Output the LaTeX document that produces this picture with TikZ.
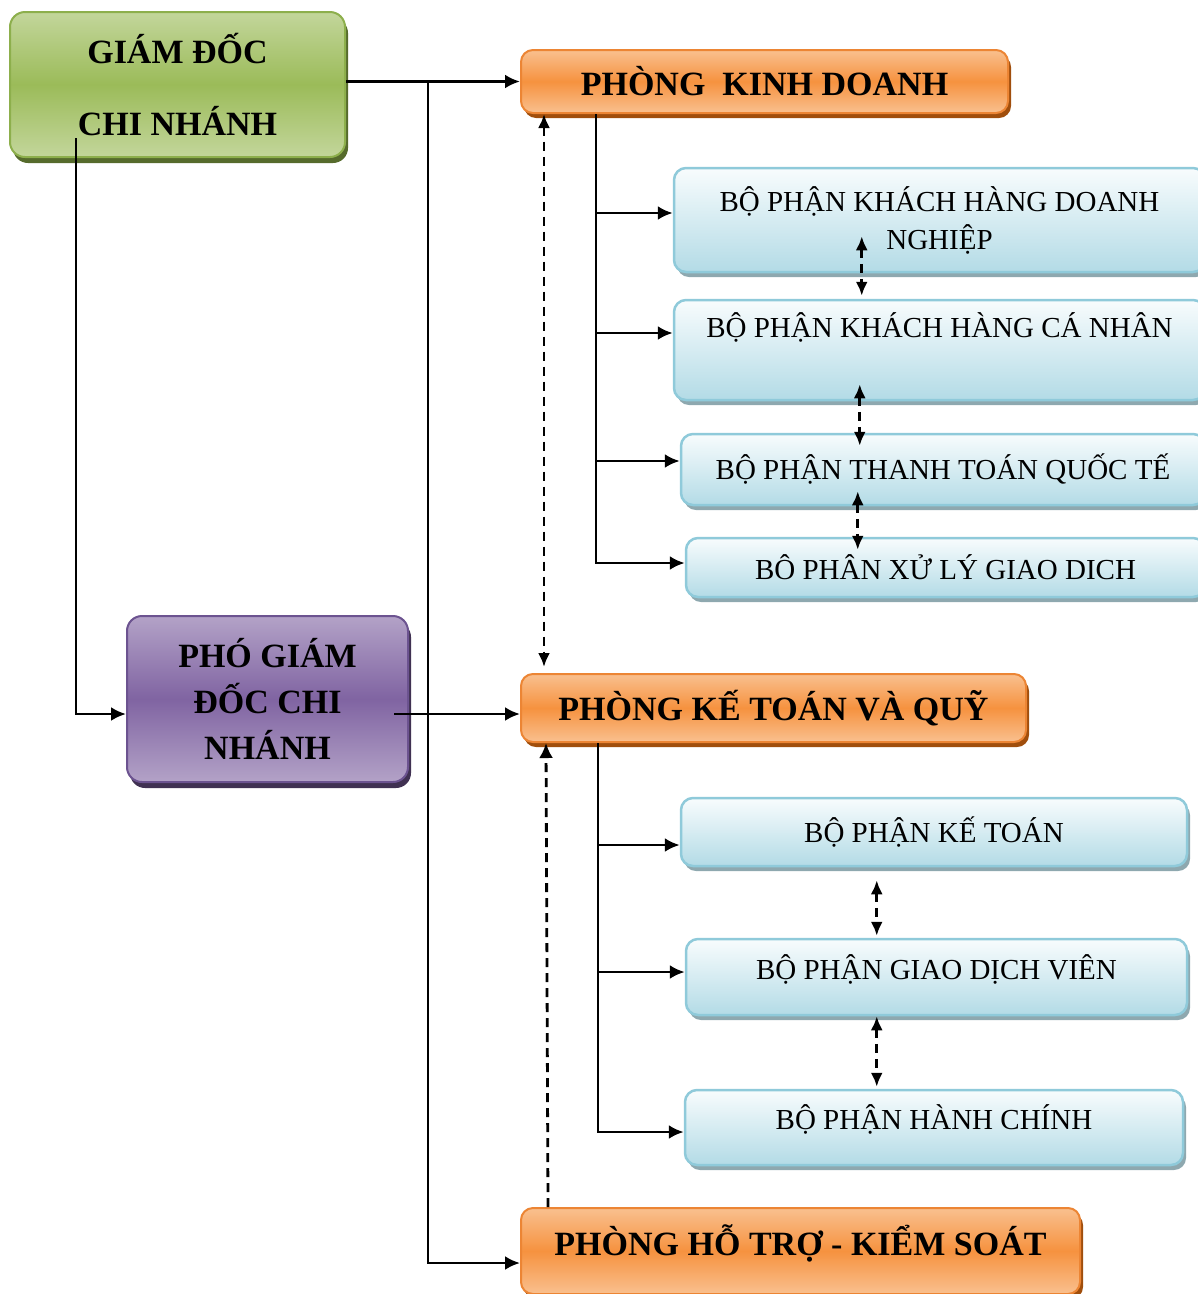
\documentclass[tikz,border=0pt]{standalone}
\usepackage{fontspec}
\setmainfont{Liberation Serif}
\usetikzlibrary{calc}
\usetikzlibrary{arrows.meta, shadows}
\definecolor{orangemid}{HTML}{F6923F}
\definecolor{orangelight}{HTML}{F9C08F}
\definecolor{orangeline}{HTML}{EC8534}
\definecolor{orangeshadow}{HTML}{A04E0C}
\definecolor{greenmid}{HTML}{9BBB59}
\definecolor{greenlight}{HTML}{C3D69B}
\definecolor{greenline}{HTML}{8DAF4C}
\definecolor{greenshadow}{HTML}{566B2C}
\definecolor{purplemid}{HTML}{8064A2}
\definecolor{purplelight}{HTML}{B3A2C7}
\definecolor{purpleline}{HTML}{6C5390}
\definecolor{purpleshadow}{HTML}{403152}
\definecolor{bluetop}{HTML}{F8FCFD}
\definecolor{bluebottom}{HTML}{B3DBE6}
\definecolor{blueline}{HTML}{8FCADA}
\definecolor{blueshadow}{HTML}{8EA8AF}
\tikzset{
	-{Latex[length=15pt,width=14pt]},
	x=1pt, y=-1pt,
	box/.style={rectangle, rounded corners=15pt, align=center, line width=2pt, inner sep=3pt},
	lead/.style={box, draw=greenline, top color=greenlight, bottom color=greenlight, middle color=greenmid,
		font=\bfseries\fontsize{34}{40}\selectfont,
		drop shadow={shadow xshift=3pt, shadow yshift=-6pt, fill=greenshadow, opacity=1}},
	deputy/.style={box, draw=purpleline, top color=purplelight, bottom color=purplelight, middle color=purplemid,
		font=\bfseries\fontsize{34}{46}\selectfont,
		drop shadow={shadow xshift=3pt, shadow yshift=-6pt, fill=purpleshadow, opacity=1}},
	dept/.style={box, rounded corners=12pt, draw=orangeline, top color=orangelight, bottom color=orangelight, middle color=orangemid,
		font=\bfseries\fontsize{34}{40}\selectfont,
		drop shadow={shadow xshift=3pt, shadow yshift=-5pt, fill=orangeshadow, opacity=1}},
	unit/.style={box, rounded corners=12pt, line width=2.5pt, draw=blueline, top color=bluetop, bottom color=bluebottom,
		font=\fontsize{29}{38}\selectfont,
		drop shadow={shadow xshift=3pt, shadow yshift=-5pt, fill=blueshadow, opacity=1}},
	twoway/.style={{Latex[length=14pt,width=12pt]}-{Latex[length=14pt,width=12pt]}, dash pattern=on 9pt off 6pt},
	oneway/.style={dash pattern=on 9pt off 6pt}
}

\begin{document}
\begin{tikzpicture}[line width=2.8pt]
	\useasboundingbox (0,0) rectangle (1198,1294);
	
	% Management
	\node (gd) [lead, minimum width=335pt, minimum height=145pt] at (177.5,84.5) {GIÁM ĐỐC\\[32pt]CHI NHÁNH};
	\node (pgd) [deputy, minimum width=281pt, minimum height=166pt] at (267.5,699) {PHÓ GIÁM\\ĐỐC CHI\\NHÁNH};
	
	% Departments
	\node (pkd) [dept, minimum width=487pt, minimum height=63pt] at (764.5,81.5) {PHÒNG\ \ KINH DOANH};
	\node (pkt) [dept, minimum width=505pt, minimum height=68pt] at (773.5,708) {PHÒNG KẾ TOÁN VÀ QUỸ};
	\node (pht) [dept, minimum width=559pt, minimum height=86pt, text height=28pt, text depth=20pt] at (800.5,1251) {PHÒNG HỖ TRỢ - KIỂM SOÁT};
	
	% Units of the business department
	\node (kh1) [unit, minimum width=531pt, minimum height=104pt] at (939.5,220) {BỘ PHẬN KHÁCH HÀNG DOANH\\NGHIỆP};
	\node (kh2) [unit, minimum width=531pt, minimum height=100pt] at (939.5,350) {BỘ PHẬN KHÁCH HÀNG CÁ NHÂN\\\strut};
	\node (tt) [unit, minimum width=524pt, minimum height=71pt] at (943,469.5) {BỘ PHẬN THANH TOÁN QUỐC TẾ};
	\node (xl) [unit, minimum width=519pt, minimum height=59pt] at (945.5,567.5) {BÔ PHÂN XỬ LÝ GIAO DICH};
	
	% Units of the accounting department
	\node (kt) [unit, minimum width=506pt, minimum height=68pt] at (934,832) {BỘ PHẬN KẾ TOÁN};
	\node (gdv) [unit, minimum width=501pt, minimum height=76pt, text depth=20pt] at (936.5,977) {BỘ PHẬN GIAO DỊCH VIÊN};
	\node (hc) [unit, minimum width=498pt, minimum height=75pt, text depth=20pt] at (934,1127.5) {BỘ PHẬN HÀNH CHÍNH};
	
	% Lines from the director
	\coordinate (split) at (428,81.5);
	\draw (gd.east |- pkd.west) -- (pkd.west);
	\draw (split) |- ([yshift=-12pt]pht.west);
	\draw ([xshift=67pt,yshift=20pt]gd.south west) |- ([yshift=-15pt]pgd.west);
	\draw ([xshift=-15pt,yshift=-15pt]pgd.east) -- ([yshift=-6pt]pkt.west);
	
	% Links between departments
	\draw[twoway] ([xshift=24pt]pkd.south west) -- ([xshift=24pt,yshift=6pt]pkt.north west);
	\draw[oneway] ([xshift=28pt]pht.north west) -- ([xshift=26pt]pkt.south west);
	
	% Business department tree
	\coordinate (kdtrunk) at ([xshift=76pt]pkd.south west);
	\draw (kdtrunk) |- ([yshift=4.5pt]xl.west);
	\foreach \n/\dy in {kh1/7, kh2/17, tt/8.5}
		\draw ([yshift=\dy pt]\n.west -| kdtrunk) -- ([yshift=\dy pt]\n.west);
	
	% Accounting department tree
	\coordinate (kttrunk) at ([xshift=78pt]pkt.south west);
	\draw (kttrunk) |- ([yshift=-4.5pt]hc.west);
	\foreach \n/\dy in {kt/-13, gdv/5}
		\draw ([yshift=\dy pt]\n.west -| kttrunk) -- ([yshift=\dy pt]\n.west);
	
	% Links between units
	\draw[twoway] ([xshift=189pt,yshift=37pt]kh1.south west) -- ([xshift=189pt,yshift=3pt]kh2.north west);
	\draw[twoway] ([xshift=187pt,yshift=17pt]kh2.south west) -- ([xshift=180pt,yshift=-13pt]tt.north west);
	\draw[twoway] ([xshift=178pt,yshift=15pt]tt.south west) -- ([xshift=173pt,yshift=-13pt]xl.north west);
	\draw[twoway] ([xshift=197pt,yshift=-13pt]kt.south west) -- ([xshift=192pt,yshift=2pt]gdv.north west);
	\draw[twoway] ([xshift=192pt]gdv.south west) -- ([xshift=193pt,yshift=2pt]hc.north west);
	
\end{tikzpicture}
\end{document}
